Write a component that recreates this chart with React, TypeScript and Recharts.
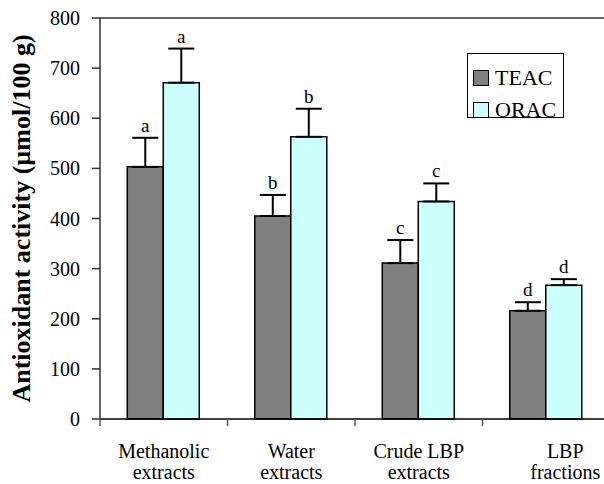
import { Bar, BarChart, ErrorBar, LabelList, ReferenceLine, XAxis, YAxis } from "recharts";

const categories = ["Methanolic\nextracts", "Water\nextracts", "Crude LBP\nextracts", "LBP\nfractions"];
const teac = [503, 405, 311, 216];
const teacErr = [58, 42, 46, 17];
const teacLetters = ["a", "b", "c", "d"];
const orac = [671, 563, 434, 267];
const oracErr = [68, 56, 36, 12];
const oracLetters = ["a", "b", "c", "d"];
const yTicks = [0, 100, 200, 300, 400, 500, 600, 700, 800];

const FONT = "'Liberation Serif', 'Times New Roman', serif";
const TEAC_FILL = "#808080";
const ORAC_FILL = "#ccffff";

const rows = categories.map((name, i) => ({
  name,
  teac: teac[i],
  teacErr: [0, teacErr[i]],
  teacLetter: teacLetters[i],
  orac: orac[i],
  oracErr: [0, oracErr[i]],
  oracLetter: oracLetters[i],
}));

const CHART_W = 620;
const MARGIN = { top: 18, right: 10, bottom: 0, left: 0 };
const Y_W = 100;
const BAND = (CHART_W - MARGIN.left - MARGIN.right - Y_W) / categories.length;

function letterLabel(valueKey: "teac" | "orac", errs: number[]) {
  return (props: any) => {
    const { x, y, width, height, value, index } = props;
    const v = rows[index][valueKey];
    const pxPerUnit = height / v;
    const top = y - errs[index] * pxPerUnit;
    return (
      <text x={x + width / 2} y={top - 6} textAnchor="middle" fontFamily={FONT} fontSize={19} fill="#000">
        {value}
      </text>
    );
  };
}

function CategoryTick(props: any) {
  const { x, y, payload, index } = props;
  const lines = String(payload.value).split("\n");
  // last label sits a little right of its bars in the original
  const shift = index === categories.length - 1 ? 19 : 0;
  return (
    <g>
      <line x1={x - BAND / 2} x2={x - BAND / 2} y1={y} y2={y + 7} stroke="#555" strokeWidth={1.5} />
      <text x={x + shift} y={y + 39} textAnchor="middle" fontFamily={FONT} fontSize={20} fill="#000">
        {lines.map((l, i) => (
          <tspan key={i} x={x + shift} dy={i === 0 ? 0 : 21}>
            {l}
          </tspan>
        ))}
      </text>
    </g>
  );
}

function ValueTick(props: any) {
  const { x, y, payload } = props;
  return (
    <text x={x} y={y} dy={7} textAnchor="end" fontFamily={FONT} fontSize={20} fill="#000">
      {payload.value}
    </text>
  );
}

function LegendBox() {
  const items = [
    { label: "TEAC", fill: TEAC_FILL },
    { label: "ORAC", fill: ORAC_FILL },
  ];
  return (
    <div
      style={{
        position: "absolute",
        left: 467,
        top: 53,
        border: "1.5px solid #000",
        background: "#fff",
        width: 97,
        height: 65,
        boxSizing: "border-box",
        padding: "8px 0 0 5px",
        fontFamily: FONT,
      }}
    >
      {items.map((it) => (
        <div key={it.label} style={{ display: "flex", alignItems: "center", height: 32 }}>
          <span
            style={{
              display: "inline-block",
              width: 14,
              height: 14,
              background: it.fill,
              border: "1.5px solid #000",
              marginRight: 6,
            }}
          />
          <span style={{ fontSize: 22, lineHeight: "22px" }}>{it.label}</span>
        </div>
      ))}
    </div>
  );
}

export default function App() {
  return (
    <div
      style={{
        position: "absolute",
        left: 0,
        top: 0,
        width: 604,
        height: 484,
        overflow: "hidden",
        background: "#fff",
        fontFamily: FONT,
      }}
    >
      <BarChart width={CHART_W} height={484} data={rows} margin={MARGIN} barCategoryGap="21.4%" barGap={0}>
        <ReferenceLine y={800} stroke="#333" strokeWidth={1.5} />
        <XAxis
          dataKey="name"
          height={65}
          axisLine={{ stroke: "#000", strokeWidth: 1.5 }}
          tickLine={false}
          tickSize={0}
          tickMargin={0}
          interval={0}
          tick={<CategoryTick />}
        />
        <YAxis
          width={Y_W}
          domain={[0, 800]}
          ticks={yTicks}
          interval={0}
          axisLine={{ stroke: "#333", strokeWidth: 1.5 }}
          tickLine={{ stroke: "#333", strokeWidth: 1.5 }}
          tickSize={8}
          tickMargin={12}
          tick={<ValueTick />}
          label={{
            value: "Antioxidant activity (µmol/100 g)",
            angle: -90,
            position: "insideLeft",
            offset: 21,
            style: { textAnchor: "middle", fontFamily: FONT, fontSize: 26, fontWeight: "bold", fill: "#000" },
          }}
        />
        <Bar dataKey="teac" name="TEAC" fill={TEAC_FILL} stroke="#000" strokeWidth={1.5} isAnimationActive={false}>
          <ErrorBar dataKey="teacErr" direction="y" width={13} stroke="#000" strokeWidth={2} />
          <LabelList dataKey="teacLetter" content={letterLabel("teac", teacErr)} />
        </Bar>
        <Bar dataKey="orac" name="ORAC" fill={ORAC_FILL} stroke="#000" strokeWidth={1.5} isAnimationActive={false}>
          <ErrorBar dataKey="oracErr" direction="y" width={13} stroke="#000" strokeWidth={2} />
          <LabelList dataKey="oracLetter" content={letterLabel("orac", oracErr)} />
        </Bar>
      </BarChart>
      <LegendBox />
    </div>
  );
}
